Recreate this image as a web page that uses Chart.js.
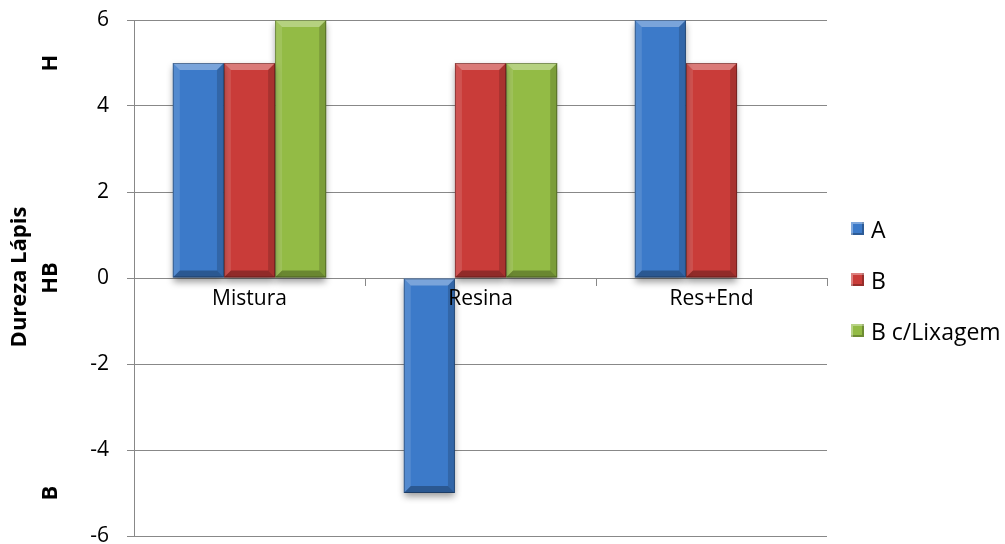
<!DOCTYPE html>
<html>
<head>
<meta charset="utf-8">
<script src="https://cdn.jsdelivr.net/npm/chart.js@4"></script>
<style>
    body {margin: 0; background: #fff;}
    #wrap {position: relative; width: 1005px; height: 544px;}
    #chart-labels {position: absolute; left: 851px; top: 203px; font-family: "Open Sans", sans-serif; font-size: 23px; color: #000;}
    .chart-label-container {display: flex; align-items: center; height: 51px;}
    .chart-label-color {width: 13px; height: 13px; margin-right: 7px; box-shadow: inset 2px 2px 0 rgba(255,255,255,0.35), inset -2px -2px 0 rgba(0,0,0,0.25);}
</style>
</head>
<body>
<div id="wrap">
    <canvas id="chart" width="1005" height="544"></canvas>
    <div id="chart-labels"></div>
</div>
<script>
const categories = ["Mistura", "Resina", "Res+End"]
const seriesNames = ["A", "B", "B c/Lixagem"]
const valuesA = [5, -5, 6]
const valuesB = [5, 5, 5]
const valuesBLixagem = [6, 5, null]
const barColors = ["#3c7ac9", "#c93c39", "#93bb45"]
const yMin = -6
const yMax = 6
const yStep = 2
const hardnessValues = [5, 0, -5]
const hardnessLabels = ["H", "HB", "B"]
const axisTitle = "Dureza Lápis"

const gridColor = "#888888"
const font = {family: "'Open Sans', sans-serif", size: 20}
const titleFont = "bold 22px 'Open Sans', sans-serif"

// soft shadow under every bar, then a bevel on top of it
let barStyle = {
    id: "barStyle",
    beforeDatasetDraw (chart) {
        let ctx = chart.ctx
        ctx.save()
        ctx.shadowColor = "rgba(0,0,0,0.4)"
        ctx.shadowBlur = 7
        ctx.shadowOffsetY = 4
    },
    afterDatasetDraw (chart, args) {
        let ctx = chart.ctx
        ctx.restore()
        for (let bar of args.meta.data) {
            let p = bar.getProps(["x", "y", "base", "width"], true)
            if (p.y == null || isNaN(p.y) || p.y === p.base) continue
            let l = p.x - p.width / 2
            let r = p.x + p.width / 2
            let t = Math.min(p.y, p.base)
            let b = Math.max(p.y, p.base)
            let e = 7
            ctx.save()
            ctx.fillStyle = "rgba(255,255,255,0.32)"
            ctx.beginPath(); ctx.moveTo(l, t); ctx.lineTo(r, t); ctx.lineTo(r - e, t + e); ctx.lineTo(l + e, t + e); ctx.closePath(); ctx.fill()
            ctx.fillStyle = "rgba(255,255,255,0.12)"
            ctx.beginPath(); ctx.moveTo(l, t); ctx.lineTo(l + e, t + e); ctx.lineTo(l + e, b - e); ctx.lineTo(l, b); ctx.closePath(); ctx.fill()
            ctx.fillStyle = "rgba(0,0,0,0.16)"
            ctx.beginPath(); ctx.moveTo(r, t); ctx.lineTo(r - e, t + e); ctx.lineTo(r - e, b - e); ctx.lineTo(r, b); ctx.closePath(); ctx.fill()
            ctx.fillStyle = "rgba(0,0,0,0.28)"
            ctx.beginPath(); ctx.moveTo(l, b); ctx.lineTo(l + e, b - e); ctx.lineTo(r - e, b - e); ctx.lineTo(r, b); ctx.closePath(); ctx.fill()
            ctx.strokeStyle = "rgba(0,0,0,0.3)"
            ctx.lineWidth = 1
            ctx.strokeRect(l + 0.5, t + 0.5, p.width - 1, b - t - 1)
            ctx.restore()
        }
    }
}

// rotated axis title and H / HB / B marks
let sideTitles = {
    id: "sideTitles",
    afterDraw (chart) {
        let ctx = chart.ctx
        let y = chart.scales.y
        ctx.save()
        ctx.fillStyle = "#000"
        ctx.font = titleFont
        ctx.textAlign = "center"
        ctx.textBaseline = "middle"
        ctx.translate(20, 277)
        ctx.rotate(-Math.PI / 2)
        ctx.fillText(axisTitle, 0, 0)
        ctx.restore()
        for (let i = 0; i < hardnessValues.length; i++) {
            ctx.save()
            ctx.fillStyle = "#000"
            ctx.font = titleFont
            ctx.textAlign = "center"
            ctx.textBaseline = "middle"
            ctx.translate(51, y.getPixelForValue(hardnessValues[i]))
            ctx.rotate(-Math.PI / 2)
            ctx.fillText(hardnessLabels[i], 0, 0)
            ctx.restore()
        }
    }
}

let seriesValues = [valuesA, valuesB, valuesBLixagem]
let datasets = seriesNames.map((name, i) => ({
    label: name,
    data: seriesValues[i],
    backgroundColor: barColors[i],
    borderWidth: 0,
    categoryPercentage: 0.664,
    barPercentage: 1
}))

let chart = new Chart("chart", {
    type: "bar",
    data: {labels: categories, datasets: datasets},
    plugins: [barStyle, sideTitles],
    options: {
        responsive: false,
        animation: false,
        layout: {padding: {top: 20, right: 178, bottom: 8, left: 0}},
        plugins: {legend: {display: false}, tooltip: {enabled: false}},
        scales: {
            x: {
                position: {y: 0},
                grid: {drawOnChartArea: false, offset: true, tickLength: 7, color: gridColor},
                border: {color: gridColor},
                ticks: {z: 1, color: "#000", font: {family: font.family, size: 21}, padding: 1}
            },
            y: {
                min: yMin,
                max: yMax,
                afterFit (scale) {
                    scale.width = 134
                    scale.paddingTop = 0
                    scale.paddingBottom = 0
                },
                grid: {color: gridColor, tickLength: 7},
                border: {color: gridColor},
                ticks: {stepSize: yStep, color: "#000", font: {family: font.family, size: 21}, padding: 18}
            }
        }
    }
})

let labels_container = document.querySelector("#chart-labels")
for (let i = 0; i < seriesNames.length; i++) {
    let element = document.createElement("div")
    element.classList.add("chart-label-container")
    let color_element = document.createElement("div")
    color_element.classList.add("chart-label-color")
    color_element.style.backgroundColor = barColors[i]
    element.appendChild(color_element)
    let label_value = document.createElement("div")
    label_value.textContent = seriesNames[i]
    element.appendChild(label_value)
    labels_container.append(element)
}
</script>
</body>
</html>
